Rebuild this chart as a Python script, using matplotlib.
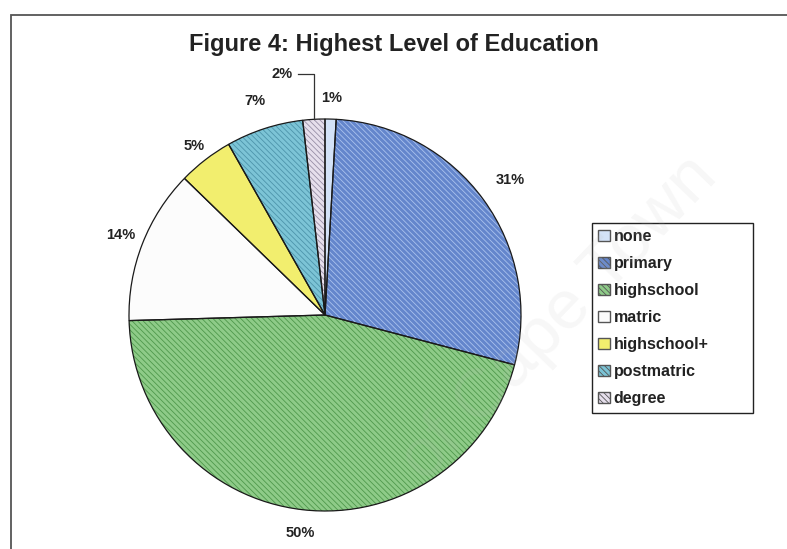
import numpy as np
import matplotlib.pyplot as plt
from matplotlib.patches import Patch, Rectangle

plt.rcParams['font.family'] = ['Liberation Sans', 'DejaVu Sans']
plt.rcParams['hatch.linewidth'] = 0.6

# Education levels and their shares (%)
categories = ['none', 'primary', 'highschool', 'matric', 'highschool+', 'postmatric', 'degree']
shares = [1, 31, 50, 14, 5, 7, 2]

# Excel-like fills: base colour plus a fine diagonal stripe colour
face_colors = ['#d3e2f7', '#6486cc', '#8ecb88', '#fcfcfc', '#f2ee6e', '#7cc4d6', '#e6dfec']
hatch_colors = ['#d3e2f7', '#aac2ee', '#4f984c', '#fcfcfc', '#f2ee6e', '#4d94ab', '#978ea6']
stripes = '\\' * 6
hatches = ['', stripes, stripes, '', '', stripes, stripes]
label_dist = [1.11, 1.17, 1.12, 1.12, 1.09, 1.15, None]

fig = plt.figure(figsize=(7.87, 5.49), dpi=100)
fig.patch.set_facecolor('white')

# chart area border (runs off the right and bottom of the page)
fig.patches.append(Rectangle((11 / 787, -0.2), 1.2, 1.2 - 15 / 549, transform=fig.transFigure,
                             fill=False, edgecolor='#555555', linewidth=1.3))

fig.text(0.5, 1 - 45 / 549, 'Figure 4: Highest Level of Education',
         ha='center', va='center', fontsize=17, fontweight='bold', color='#222222')

# pie axes: centre around (325, 315) px, radius ~196 px
r_px = 196
ax = fig.add_axes([(325 - r_px) / 787, (549 - 315 - r_px) / 549, 2 * r_px / 787, 2 * r_px / 549])
ax.axis('off')

wedges, _ = ax.pie(shares, colors=face_colors, hatch=hatches, startangle=90,
                   counterclock=False, radius=1, frame=False)
for w, hc in zip(wedges, hatch_colors):
    w.set_edgecolor(hc)
    w.set_linewidth(0)
# outlines on top
ax.pie(shares, startangle=90, counterclock=False, radius=1, frame=False,
       wedgeprops={'fill': False, 'edgecolor': '#1a1a1a', 'linewidth': 0.9})
ax.set_xlim(-1, 1)
ax.set_ylim(-1, 1)

total = sum(shares)
fracs = np.array(shares) / total
starts = np.concatenate([[0], np.cumsum(fracs)[:-1]])
label_kw = dict(ha='center', va='center', fontsize=10.5, fontweight='bold', color='#222222')
for i, (v, f, s) in enumerate(zip(shares, fracs, starts)):
    mid = np.deg2rad(90 - 360 * (s + f / 2))
    if label_dist[i] is None:
        # small slice: label off to the left with a leader line
        lx, ly = -0.22, 1.23
        ex = np.cos(mid)
        ey = np.sin(mid)
        ax.text(lx, ly, f'{v}%', clip_on=False, **label_kw)
        ax.plot([lx + 0.08, ex, ex], [ly, ly, ey], color='#333333', lw=0.9, clip_on=False)
    else:
        d = label_dist[i]
        ax.text(d * np.cos(mid), d * np.sin(mid), f'{v}%', clip_on=False, **label_kw)

handles = [Patch(facecolor=fc, edgecolor='#555555', hatch=h)
           for fc, h in zip(face_colors, hatches)]
leg = fig.legend(handles, categories, loc='upper left',
                 bbox_to_anchor=(592 / 787, 1 - 413 / 549, 161 / 787, 190 / 549),
                 mode='expand', fancybox=False, shadow=False, framealpha=1,
                 edgecolor='#222222', fontsize=11.5, labelspacing=0.75,
                 borderpad=0.4, borderaxespad=0, handlelength=0.7, handleheight=0.7,
                 handletextpad=0.25)
leg.get_frame().set_linewidth(1.0)
for t in leg.get_texts():
    t.set_fontweight('bold')
    t.set_color('#222222')

# faint watermark across the page
fig.text(0.71, 0.42, 'of Cape Town', rotation=46, fontsize=50, color='#bbbbbb',
         alpha=0.12, ha='center', va='center', zorder=10)

fig.savefig('out.png', dpi=100, facecolor='white')
